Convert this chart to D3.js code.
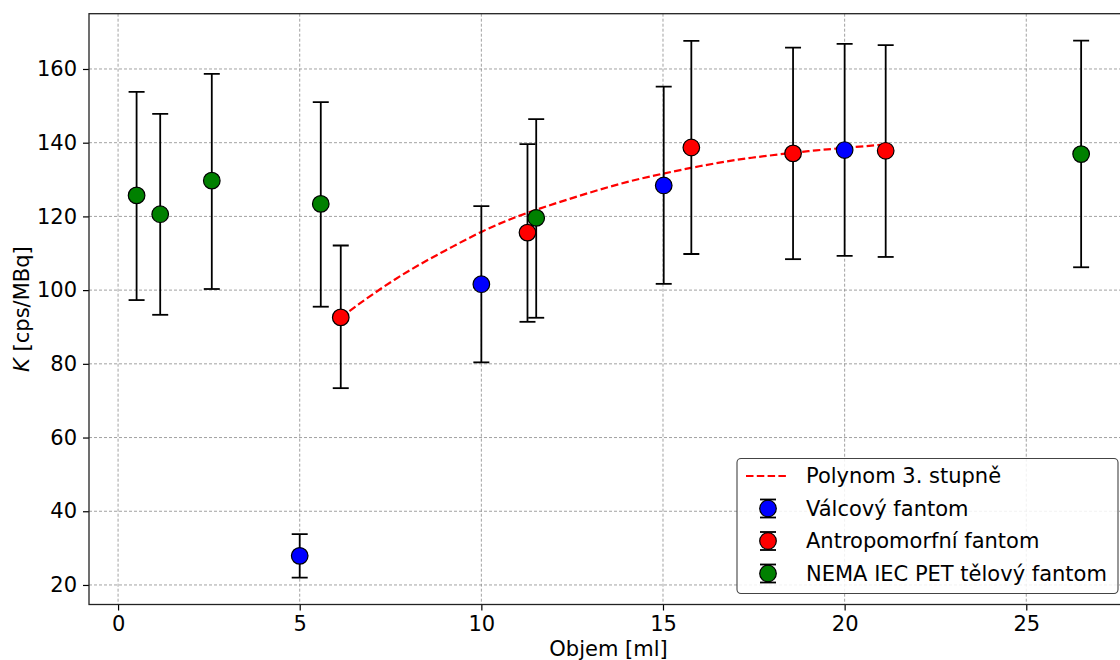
<!DOCTYPE html>
<html>
<head>
<meta charset="utf-8">
<script src="https://cdn.jsdelivr.net/npm/d3@7"></script>
<style>
  html, body { margin: 0; padding: 0; background: #fff; overflow: hidden; }
  svg { display: block; font-family: "DejaVu Sans", sans-serif; }
</style>
</head>
<body>
<svg id="chart" width="1120" height="660"></svg>
<script>
// ---- data ----
const xTicks = [0, 5, 10, 15, 20, 25];
const yTicks = [20, 40, 60, 80, 100, 120, 140, 160];

const valcX  = [5.0, 10.0, 15.02, 20.0];
const valcY  = [27.9, 101.6, 128.4, 138.0];
const valcLo = [22.0, 80.4, 101.7, 109.3];
const valcHi = [33.8, 122.8, 155.2, 166.8];

const antroX  = [6.13, 11.27, 15.78, 18.58, 21.13];
const antroY  = [92.6, 115.6, 138.7, 137.1, 137.8];
const antroLo = [73.4, 91.4, 109.8, 108.4, 109.0];
const antroHi = [112.1, 139.6, 167.6, 165.8, 166.5];

const nemaX  = [0.51, 1.16, 2.58, 5.58, 11.51, 26.51];
const nemaY  = [125.7, 120.6, 129.7, 123.4, 119.6, 136.9];
const nemaLo = [97.3, 93.3, 100.3, 95.5, 92.5, 106.2];
const nemaHi = [153.8, 147.8, 158.7, 151.0, 146.4, 167.7];

const fitX = [6.13, 7, 8, 9, 10, 11, 12, 13, 14, 15, 16, 17, 18, 19, 20, 21.13];
const fitY = [92.6, 98.8, 105.2, 110.7, 115.8, 120.0, 123.4, 126.5, 129.3, 131.6, 133.6, 135.3, 136.6, 137.7, 138.6, 139.5];

const seriesNames = ["Válcový fantom", "Antropomorfní fantom", "NEMA IEC PET tělový fantom"];
const fitName = "Polynom 3. stupně";
const colors = ["#0000ff", "#ff0000", "#008000"];

// ---- layout ----
const svg = d3.select("#chart");
const L = 89, R = 1128, T = 13.7, B = 604.5;
const x = d3.scaleLinear().domain([-0.8, 27.8]).range([L, R]);
const y = d3.scaleLinear().domain([14.7, 175.0]).range([B, T]);
const FS = 21;

// grid
const grid = svg.append("g");
grid.selectAll(".gx").data(xTicks).join("line")
  .attr("x1", d => x(d)).attr("x2", d => x(d)).attr("y1", T).attr("y2", B)
  .attr("stroke", "#8a8a8a").attr("stroke-width", 0.8).attr("stroke-dasharray", "3,2");
grid.selectAll(".gy").data(yTicks).join("line")
  .attr("x1", L).attr("x2", R).attr("y1", d => y(d)).attr("y2", d => y(d))
  .attr("stroke", "#8a8a8a").attr("stroke-width", 0.8).attr("stroke-dasharray", "3,2");

// axes
const xAxis = d3.axisBottom(x).tickValues(xTicks).tickSize(6).tickPadding(5).tickFormat(d3.format("d"));
const yAxis = d3.axisLeft(y).tickValues(yTicks).tickSize(6).tickPadding(6).tickFormat(d3.format("d"));
const gx = svg.append("g").attr("transform", `translate(0,${B})`).call(xAxis);
const gy = svg.append("g").attr("transform", `translate(${L},0)`).call(yAxis);
[gx, gy].forEach(g => {
  g.select(".domain").remove();
  g.selectAll(".tick line").attr("stroke", "#000").attr("stroke-width", 1.2);
  g.selectAll(".tick text").attr("fill", "#000").style("font-size", FS + "px")
    .style("font-family", "'DejaVu Sans', sans-serif");
});
gx.selectAll(".tick text").attr("dy", "0.75em");

// frame
svg.append("rect").attr("x", L).attr("y", T).attr("width", R - L).attr("height", B - T)
  .attr("fill", "none").attr("stroke", "#222").attr("stroke-width", 1.3);

// axis labels
svg.append("text").attr("x", (L + R) / 2).attr("y", 656).attr("text-anchor", "middle")
  .style("font-size", FS + "px").text("Objem [ml]");
const yl = svg.append("text").attr("transform", `translate(29,${(T + B) / 2}) rotate(-90)`)
  .attr("text-anchor", "middle").style("font-size", FS + "px");
yl.append("tspan").style("font-style", "italic").text("K");
yl.append("tspan").text(" [cps/MBq]");

// clip for plot content
svg.append("clipPath").attr("id", "plotclip").append("rect")
  .attr("x", L).attr("y", T).attr("width", R - L).attr("height", B - T);
const plot = svg.append("g").attr("clip-path", "url(#plotclip)");

// fit curve
const fitPts = fitX.map((v, i) => [v, fitY[i]]);
plot.append("path").datum(fitPts)
  .attr("d", d3.line().x(d => x(d[0])).y(d => y(d[1])).curve(d3.curveNatural))
  .attr("fill", "none").attr("stroke", "#ff0000").attr("stroke-width", 2.2)
  .attr("stroke-dasharray", "7.5,3.3");

// error bar series
const series = [
  [valcX, valcY, valcLo, valcHi],
  [antroX, antroY, antroLo, antroHi],
  [nemaX, nemaY, nemaLo, nemaHi]
];
const capW = 8, rad = 8.3;
series.forEach((s, si) => {
  const pts = s[0].map((v, i) => ({ x: v, y: s[1][i], lo: s[2][i], hi: s[3][i] }));
  const g = plot.append("g");
  g.selectAll(".eb").data(pts).join("line")
    .attr("x1", d => x(d.x)).attr("x2", d => x(d.x)).attr("y1", d => y(d.lo)).attr("y2", d => y(d.hi))
    .attr("stroke", "#000").attr("stroke-width", 1.8);
  g.selectAll(".ct").data(pts).join("line")
    .attr("x1", d => x(d.x) - capW).attr("x2", d => x(d.x) + capW).attr("y1", d => y(d.hi)).attr("y2", d => y(d.hi))
    .attr("stroke", "#000").attr("stroke-width", 1.8);
  g.selectAll(".cb").data(pts).join("line")
    .attr("x1", d => x(d.x) - capW).attr("x2", d => x(d.x) + capW).attr("y1", d => y(d.lo)).attr("y2", d => y(d.lo))
    .attr("stroke", "#000").attr("stroke-width", 1.8);
  g.selectAll("circle").data(pts).join("circle")
    .attr("cx", d => x(d.x)).attr("cy", d => y(d.y)).attr("r", rad)
    .attr("fill", colors[si]).attr("stroke", "#000").attr("stroke-width", 1.2);
});

// legend
const lg = svg.append("g");
const lx = 737, ly = 458.5, lw = 381, lh = 135;
lg.append("rect").attr("x", lx).attr("y", ly).attr("width", lw).attr("height", lh)
  .attr("rx", 4).attr("ry", 4).attr("fill", "#fff").attr("fill-opacity", 0.85)
  .attr("stroke", "#444").attr("stroke-width", 1.1);
const rowY = [476, 508.5, 541, 573.5];
const hx = 768, tx = 806;
lg.append("line").attr("x1", 746).attr("x2", 788).attr("y1", rowY[0]).attr("y2", rowY[0])
  .attr("stroke", "#ff0000").attr("stroke-width", 2.2).attr("stroke-dasharray", "7.5,3.3");
lg.append("text").attr("x", tx).attr("y", rowY[0]).attr("dy", "0.35em")
  .style("font-size", FS + "px").text(fitName);
seriesNames.forEach((name, i) => {
  const cy = rowY[i + 1];
  lg.append("line").attr("x1", hx).attr("x2", hx).attr("y1", cy - 9).attr("y2", cy + 9)
    .attr("stroke", "#000").attr("stroke-width", 1.8);
  [cy - 9, cy + 9].forEach(yy => lg.append("line").attr("x1", hx - capW).attr("x2", hx + capW)
    .attr("y1", yy).attr("y2", yy).attr("stroke", "#000").attr("stroke-width", 1.8));
  lg.append("circle").attr("cx", hx).attr("cy", cy).attr("r", rad)
    .attr("fill", colors[i]).attr("stroke", "#000").attr("stroke-width", 1.2);
  lg.append("text").attr("x", tx).attr("y", cy).attr("dy", "0.35em")
    .style("font-size", FS + "px").text(name);
});
</script>
</body>
</html>
